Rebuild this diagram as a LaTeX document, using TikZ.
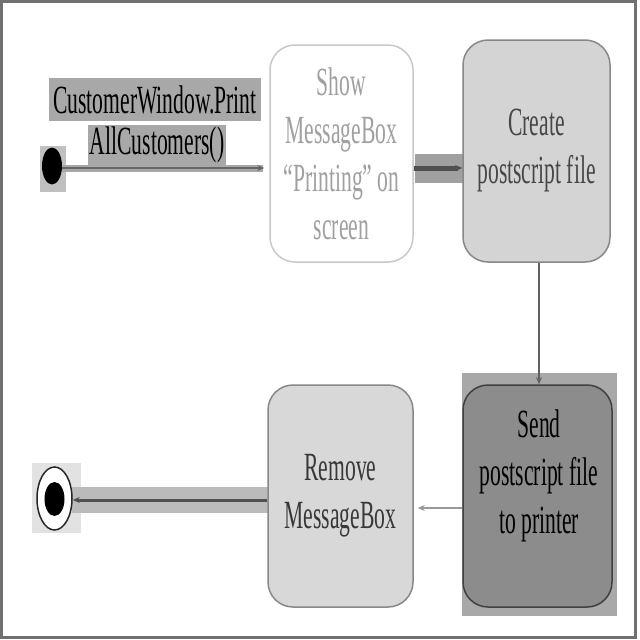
\documentclass[tikz,border=0pt]{standalone}
\usepackage{fontspec}
\setmainfont{Liberation Serif}
\newfontfamily\dfont[FakeStretch=0.54]{Liberation Serif}
\usetikzlibrary{shapes.geometric,arrows.meta,calc}
\definecolor{frame}{HTML}{707070}
\definecolor{labelbg}{HTML}{A8A8A8}
\definecolor{startbg}{HTML}{C0C0C0}
\definecolor{showborder}{HTML}{C8C8C8}
\definecolor{showtext}{HTML}{A0A0A0}
\definecolor{createfill}{HTML}{D4D4D4}
\definecolor{createborder}{HTML}{888888}
\definecolor{sendbg}{HTML}{A8A8A8}
\definecolor{sendfill}{HTML}{8C8C8C}
\definecolor{removefill}{HTML}{D8D8D8}
\definecolor{bandA}{HTML}{A8A8A8}
\definecolor{bandB}{HTML}{A0A0A0}
\definecolor{bandC}{HTML}{BBBBBB}
\definecolor{endbg}{HTML}{E2E2E2}
\definecolor{darkline}{HTML}{505050}
\begin{document}
\begin{tikzpicture}[x=1pt,y=-1pt,
  txt/.style={font=\dfont\fontsize{40}{48}\selectfont, align=center, inner sep=0},
  act/.style={rectangle, rounded corners=25pt, inner sep=0, line width=1.5pt},
  lbl/.style={rectangle, fill=labelbg, inner sep=0, font=\dfont\fontsize{40}{48}\selectfont},
  flow/.style={-{Stealth[length=7pt,width=6pt]}}]
\useasboundingbox (0,0) rectangle (640,640);
\fill[white] (0,0) rectangle (640,640);
\draw[frame, line width=3pt] (1.5,1.5) rectangle (635.5,637.5);

% highlight backgrounds
\fill[startbg] (40,146) rectangle (66,192);
\fill[sendbg] (462,373) rectangle (617,616);
\fill[endbg] (32,463) rectangle (81,533);
\fill[bandB] (415,154) rectangle (466,183);
\fill[bandC] (72,487) rectangle (268,513);

% nodes
\node[ellipse, fill=black, minimum width=20pt, minimum height=37pt, inner sep=0] (start) at (52,166) {};
\node[lbl, minimum width=212pt, minimum height=43pt] (l1) at (155,99.5) {CustomerWindow.Print};
\node[lbl, minimum width=138pt, minimum height=40pt] (l2) at (157,145) {AllCustomers()};

\node[act, draw=showborder, fill=white, minimum width=143pt, minimum height=217pt,
      txt, text=showtext] (show) at (341.5,153.5)
      {Show\\MessageBox\\“Printing” on\\screen};
\node[act, draw=createborder, fill=createfill, minimum width=147pt, minimum height=222pt,
      txt, text=black!72] (create) at (536.5,151)
      {Create\\postscript file};
\node[act, draw=black!75, fill=sendfill, minimum width=149pt, minimum height=222pt] (send) at (537.5,496) {};
\node[txt, text=black] (sendtext) at ($(send.center)+(1.5,-20)$) {Send\\postscript file\\to printer};
\node[act, draw=createborder, fill=removefill, minimum width=145pt, minimum height=222pt,
      txt, text=black!78] (remove) at (340.5,496)
      {Remove\\MessageBox};

\node[ellipse, draw=black!85, line width=1.5pt, fill=white, minimum width=35pt, minimum height=63pt, inner sep=0] (end) at (54.5,498.5) {};
\node[ellipse, fill=black, minimum width=20pt, minimum height=34pt, inner sep=0] (endin) at (54.5,499) {};

% helper rows
\coordinate (r1) at (0,168);
\coordinate (r2) at (0,508);
\coordinate (r3) at (0,500);

% connectors
\draw[bandA, line width=7pt] (start.east |- r1) -- ($(show.west |- r1)+(-6,0)$);
\draw[flow, black!60, line width=1.5pt] (start.east |- r1) -- ($(show.west |- r1)+(-5,0)$);
\draw[flow, darkline, line width=5pt] (show.east |- r1) -- (create.west |- r1);
\draw[flow, black!62, line width=1.5pt] (create.south -| 539,0) -- (send.north -| 539,0);
\draw[flow, black!40, line width=1.2pt] (send.west |- r2) -- ($(remove.east |- r2)+(4,0)$);
\draw[flow, darkline, line width=3pt] (remove.west |- r3) -- (end.east |- r3);
\end{tikzpicture}
\end{document}
